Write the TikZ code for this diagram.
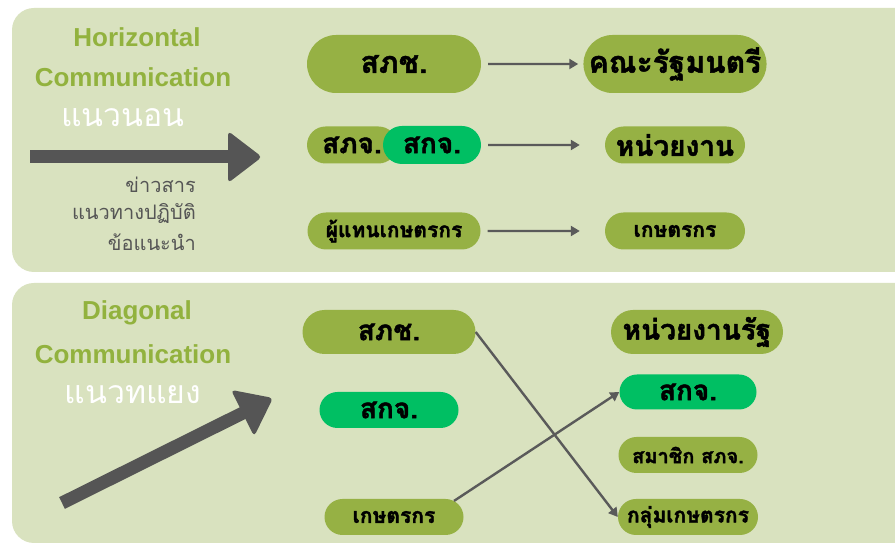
\documentclass[tikz,border=0pt]{standalone}
\usepackage{fontspec}
\setmainfont{Liberation Sans}
\newfontfamily\thaifont[Script=Thai]{Loma}
\newfontfamily\thaiheavy[Script=Thai, BoldFeatures={FakeBold=1.6}]{Loma}
\usetikzlibrary{arrows.meta,shapes.misc,calc}
\definecolor{panelbg}{RGB}{217,226,191}
\definecolor{olivefill}{RGB}{150,177,68}
\definecolor{mintfill}{RGB}{0,191,99}
\definecolor{titlegreen}{RGB}{146,178,62}
\definecolor{darkarrow}{RGB}{85,85,85}
\definecolor{linegrey}{RGB}{90,90,90}
\newcommand{\fsz}[1]{\fontsize{#1}{#1}\selectfont}

\begin{document}
\begin{tikzpicture}[
                    x=1pt, y=1pt,
                    panel/.style={fill=panelbg, rounded corners=22pt},
                    headline/.style={font=\bfseries\fsz{26}, text=titlegreen, inner sep=0pt},
                    thaiwhite/.style={font=\thaifont\fsz{32}, text=white, inner sep=0pt},
                    remark/.style={font=\thaifont\fsz{20}, text=darkarrow, anchor=east, inner sep=0pt},
                    box/.style={rounded rectangle, inner sep=0pt, text=black, font=\thaiheavy\bfseries\fsz{#1}},
                    olivebox/.style={box=#1, fill=olivefill},
                    mintbox/.style={box=#1, fill=mintfill},
                    flow/.style={-{Triangle[length=9pt,width=10pt]}, line width=2.4pt, draw=linegrey}
                ]
                \useasboundingbox (0,0) rectangle (895,546);
                \fill[white] (0,0) rectangle (895,546);
                \fill[panel] (12,274) rectangle (920,538);
                \fill[panel] (12,3)   rectangle (920,263);

                % horizontal
                \node[headline]  (hzt)  at (137,509) {Horizontal};
                \node[headline]  (hzc)  at (133,469) {Communication};
                \node[thaiwhite] (hzth) at (123,428) {แนวนอน};
                \node[remark]    (nw1)  at (196,361) {ข่าวสาร};
                \node[remark]    (nw2)  at (196,333) {แนวทางปฏิบัติ};
                \node[remark]    (nw3)  at (196,304) {ข้อแนะนำ};

                \coordinate (ha) at (30,389);
                \coordinate (hb) at (262,389);
                \coordinate (hbase) at ($(hb)!34pt!(ha)$);
                \draw[darkarrow, line width=13pt] (ha) -- ($(hb)!28pt!(ha)$);
                \fill[darkarrow, rounded corners=4pt] (hb) -- ($(hbase)!26pt!90:(hb)$) -- ($(hbase)!26pt!-90:(hb)$) -- cycle;

                \node[olivebox=30, minimum width=174pt, minimum height=58pt] (skc)  at (394,482) {สภช.};
                \node[olivebox=30, minimum width=181pt, minimum height=58pt] (krm)  [right of=skc, node distance=281pt] {คณะรัฐมนตรี};
                \node[olivebox=28, minimum width=90pt,  minimum height=37pt] (spj)  at (352,401) {สภจ.};
                \node[mintbox=28,  minimum width=98pt,  minimum height=38pt] (skj)  at (432,401) {สกจ.};
                \node[olivebox=28, minimum width=140pt, minimum height=37pt] (hnw)  [below of=krm, node distance=81pt] {หน่วยงาน};
                \node[olivebox=21, minimum width=173pt, minimum height=37pt] (ptk)  [below of=skc, node distance=167pt] {ผู้แทนเกษตรกร};
                \node[olivebox=21, minimum width=140pt, minimum height=37pt] (kst)  [below of=hnw, node distance=86pt] {เกษตรกร};

                \path
                (skc) edge[flow, shorten <=7pt, shorten >=5pt]  (krm)
                (skj) edge[flow, shorten <=7pt, shorten >=25pt] (hnw)
                (ptk) edge[flow, shorten <=7pt, shorten >=25pt] (kst)
                ;

                % diagonal
                \node[headline]  (dgt)  at (137,233) {Diagonal};
                \node[headline]  (dgc)  at (133,192) {Communication};
                \node[thaiwhite] (dgth) at (133,151) {แนวทแยง};

                \coordinate (da) at (62,43);
                \coordinate (db) at (273,148);
                \coordinate (dbase) at ($(db)!34pt!(da)$);
                \draw[darkarrow, line width=13pt] (da) -- ($(db)!28pt!(da)$);
                \fill[darkarrow, rounded corners=4pt] (db) -- ($(dbase)!26pt!90:(db)$) -- ($(dbase)!26pt!-90:(db)$) -- cycle;

                \node[olivebox=28, minimum width=173pt, minimum height=44pt] (bskc) at (389,214) {สภช.};
                \node[mintbox=28,  minimum width=139pt, minimum height=36pt] (bskj) at (389,136) {สกจ.};
                \node[olivebox=21, minimum width=139pt, minimum height=36pt] (bkst) at (394,29)  {เกษตรกร};
                \node[olivebox=28, minimum width=172pt, minimum height=44pt] (hnr)  at (697,214) {หน่วยงานรัฐ};
                \node[mintbox=28,  minimum width=137pt, minimum height=35pt] (rskj) at (688,154) {สกจ.};
                \node[olivebox=20, minimum width=139pt, minimum height=36pt] (smc)  at (688,91)  {สมาชิก สภจ.};
                \node[olivebox=21, minimum width=140pt, minimum height=36pt] (klm)  at (688,29)  {กลุ่มเกษตรกร};

                \path
                (bskc.east) edge[flow] (klm.west)
                (bkst.15)   edge[flow] (rskj.west)
                ;
            \end{tikzpicture}
\end{document}
